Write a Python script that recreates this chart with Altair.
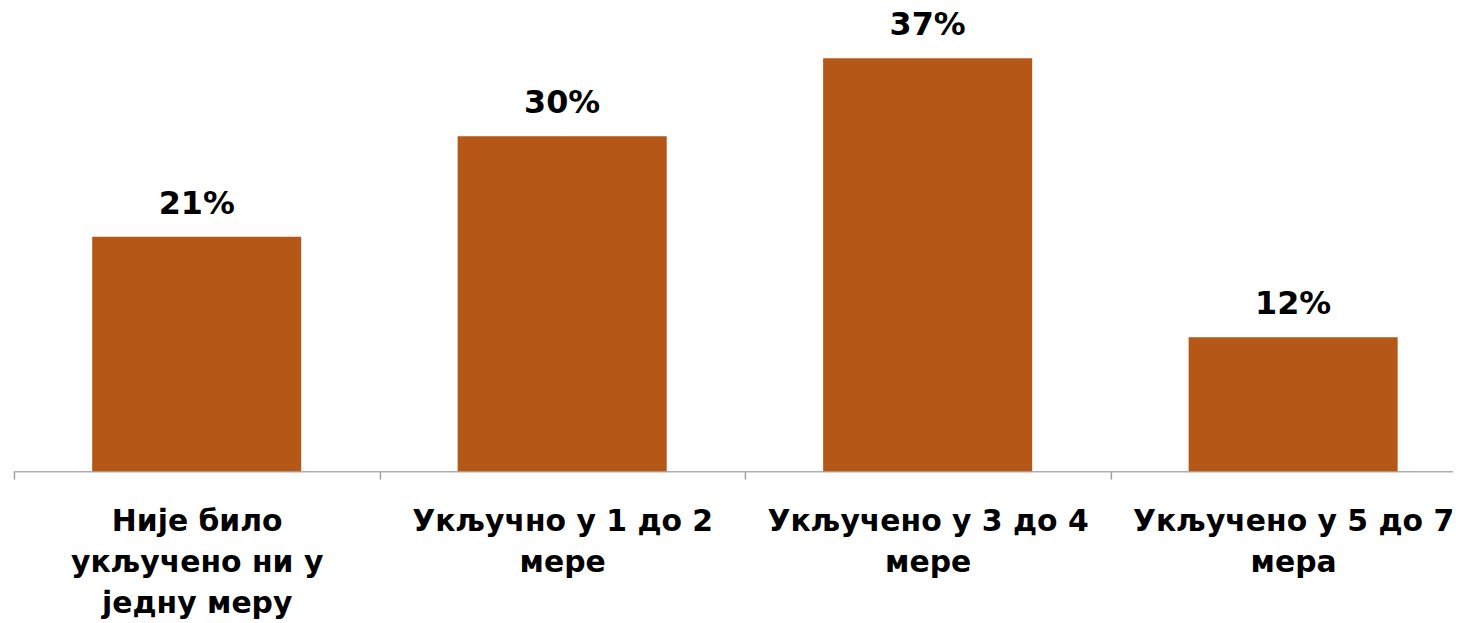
import altair as alt
import pandas as pd

categories = [
    "Није било|укључено ни у|једну меру",
    "Укључно у 1 до 2|мере",
    "Укључено у 3 до 4|мере",
    "Укључено у 5 до 7|мера",
]
values = [21, 30, 37, 12]
value_labels = ["21%", "30%", "37%", "12%"]

df = pd.DataFrame({"cat": categories, "val": values, "lab": value_labels})

FONT = "DejaVu Sans"
BAR = "#B55817"

x = alt.X(
    "cat:N",
    sort=categories,
    title=None,
    scale=alt.Scale(paddingInner=0, paddingOuter=0, range=[0, 1470]),
    axis=alt.Axis(
        labelExpr="split(datum.label, '|')",
        labelAngle=0,
        labelFont=FONT,
        labelFontSize=30,
        labelFontWeight="bold",
        labelColor="#000000",
        labelLineHeight=41,
        labelLimit=0,
        labelPadding=28,
        labelBaseline="top",
        tickBand="extent",
        tickSize=8,
        tickColor="#A0A0A0",
        tickWidth=1.5,
        domainColor="#ADADAD",
        domainWidth=1.5,
        grid=False,
    ),
)
y = alt.Y(
    "val:Q",
    scale=alt.Scale(domain=[0, 41.35], nice=False, zero=True),
    axis=None,
)

bars = alt.Chart(df).mark_bar(color=BAR, width=alt.RelativeBandSize(0.572)).encode(x=x, y=y)
texts = alt.Chart(df).mark_text(
    font=FONT, fontSize=32, fontWeight="bold", color="#000000", baseline="bottom", dy=-16
).encode(x=x, y=y, text="lab:N")

chart = (
    alt.layer(bars, texts)
    .properties(
        width=1447,
        height=464,
        autosize=alt.AutoSizeParams(type="none"),
        padding={"left": 6, "top": 0, "right": 0, "bottom": 151},
    )
    .configure(background="white", view=alt.ViewConfig(stroke=None))
)

chart.save("out.html", embed_options={"renderer": "svg", "actions": False})
